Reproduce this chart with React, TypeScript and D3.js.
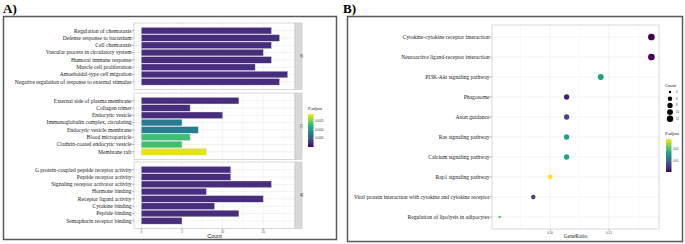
import React from 'react';
import * as d3 from 'd3';

// ---------- Panel A data ----------
const bpTerms = [
  'Regulation of chemotaxis',
  'Defense response to bacterium',
  'Cell chemotaxis',
  'Vascular process in circulatory system',
  'Humoral immune response',
  'Muscle cell proliferation',
  'Amoeboidal-type cell migration',
  'Negative regulation of response to external stimulus',
];
const bpCounts = [16, 17, 16, 15, 16, 14, 18, 17];
const bpPadj = [0.00024, 0.00024, 0.00024, 0.00024, 0.00024, 0.00024, 0.00024, 0.00024];

const ccTerms = [
  'External side of plasma membrane',
  'Collagen trimer',
  'Endocytic vesicle',
  'Immunoglobulin complex, circulating',
  'Endocytic vesicle membrane',
  'Blood microparticle',
  'Clathrin-coated endocytic vesicle',
  'Membrane raft',
];
const ccCounts = [12, 6, 10, 5, 7, 6, 5, 8];
const ccPadj = [0.00024, 0.00024, 0.00024, 0.00078, 0.00078, 0.00132, 0.00132, 0.00182];

const mfTerms = [
  'G protein-coupled peptide receptor activity',
  'Peptide receptor activity',
  'Signaling receptor activator activity',
  'Hormone binding',
  'Receptor ligand activity',
  'Cytokine binding',
  'Peptide binding',
  'Semaphorin receptor binding',
];
const mfCounts = [11, 11, 16, 8, 15, 9, 12, 5];
const mfPadj = [0.00024, 0.00024, 0.00024, 0.00024, 0.00024, 0.00024, 0.00024, 0.00024];

const facetNames = ['BP', 'CC', 'MF'];
const countTicks = [0, 5, 10, 15];
const countMinor = [2.5, 7.5, 12.5, 17.5];
const padjLimitsA = [0, 0.0019];
const padjTicksA = [0.0005, 0.001, 0.0015];

// ---------- Panel B data ----------
const keggTerms = [
  'Cytokine-cytokine receptor interaction',
  'Neuroactive ligand-receptor interaction',
  'PI3K-Akt signaling pathway',
  'Phagosome',
  'Axon guidance',
  'Ras signaling pathway',
  'Calcium signaling pathway',
  'Rap1 signaling pathway',
  'Viral protein interaction with cytokine and cytokine receptor',
  'Regulation of lipolysis in adipocytes',
];
const keggRatio = [0.186, 0.186, 0.143, 0.114, 0.114, 0.114, 0.114, 0.1, 0.0857, 0.0571];
const keggCount = [13, 13, 10, 8, 8, 8, 8, 7, 6, 4];
const keggPadj = [0.0003, 0.0004, 0.0165, 0.0025, 0.0065, 0.0165, 0.0165, 0.029, 0.006, 0.021];
const ratioTicks = [0.1, 0.15];
const ratioMinor = [0.075, 0.125, 0.175];
const countLegend = [4, 6, 8, 10, 12];
const padjTicksB = [0.01, 0.02];

const SERIF = '"Liberation Serif", "DejaVu Serif", serif';
const SANS = '"Liberation Sans", "DejaVu Sans", sans-serif';
const GRID = '#ececec';

function PanelA() {
  const facets = [
    { terms: bpTerms, counts: bpCounts, padj: bpPadj },
    { terms: ccTerms, counts: ccCounts, padj: ccPadj },
    { terms: mfTerms, counts: mfCounts, padj: mfPadj },
  ];
  const left = 134, right = 295, stripW = 7;
  const tops = [23, 93, 162];
  const h = 66.5;
  const x = d3.scaleLinear().domain([-0.9, 18.9]).range([left, right]);
  const color = d3.scaleSequential(d3.interpolateViridis).domain(padjLimitsA as [number, number]);
  const lgTop = 114, lgBot = 147, lgX = 308;
  const lgY = d3.scaleLinear().domain(padjLimitsA).range([lgBot, lgTop]);
  return (
    <g>
      <rect x={3.5} y={16.5} width={333} height={223} fill="white" stroke="#5a5a5a" strokeWidth={1.5} />
      <text x={3} y={13} fontFamily={SERIF} fontWeight="bold" fontSize={13}>A)</text>
      {facets.map((f, i) => {
        const y = d3.scaleBand().domain(f.terms).range([tops[i], tops[i] + h]).paddingInner(0.1).paddingOuter(0.6);
        const bw = y.bandwidth();
        return (
          <g key={i}>
            <rect x={left} y={tops[i]} width={right - left} height={h} fill="white" />
            {countMinor.map((t) => (
              <line key={'m' + t} x1={x(t)} x2={x(t)} y1={tops[i]} y2={tops[i] + h} stroke={GRID} strokeWidth={0.4} />
            ))}
            {countTicks.map((t) => (
              <line key={'M' + t} x1={x(t)} x2={x(t)} y1={tops[i]} y2={tops[i] + h} stroke={GRID} strokeWidth={0.7} />
            ))}
            {f.terms.map((t) => (
              <line key={'h' + t} x1={left} x2={right} y1={y(t)! + bw / 2} y2={y(t)! + bw / 2} stroke={GRID} strokeWidth={0.7} />
            ))}
            {f.terms.map((t, j) => (
              <rect key={'b' + t} x={x(0)} y={y(t)!} width={x(f.counts[j]) - x(0)} height={bw}
                fill={color(f.padj[j])} stroke="#d8d8e8" strokeWidth={0.4} />
            ))}
            <rect x={left} y={tops[i]} width={right - left} height={h} fill="none" stroke="#c8c8c8" strokeWidth={0.7} />
            <rect x={right} y={tops[i]} width={stripW} height={h} fill="#d9d9d9" stroke="#bdbdbd" strokeWidth={0.5} />
            <text transform={`translate(${right + stripW / 2 + 1},${tops[i] + h / 2}) rotate(90)`} textAnchor="middle"
              fontFamily={SANS} fontSize={3.2} fill="#333">{facetNames[i]}</text>
            {f.terms.map((t) => (
              <g key={'l' + t}>
                <line x1={left - 2} x2={left} y1={y(t)! + bw / 2} y2={y(t)! + bw / 2} stroke="#444" strokeWidth={0.4} />
                <text x={left - 2.5} y={y(t)! + bw / 2} dy="0.33em" textAnchor="end" fontFamily={SERIF} fontSize={5.6} fill="#222">{t}</text>
              </g>
            ))}
          </g>
        );
      })}
      {countTicks.map((t) => (
        <g key={'xt' + t}>
          <line x1={x(t)} x2={x(t)} y1={tops[2] + h} y2={tops[2] + h + 1.5} stroke="#444" strokeWidth={0.4} />
          <text x={x(t)} y={tops[2] + h + 4.5} textAnchor="middle" fontFamily={SANS} fontSize={3} fill="#444">{t}</text>
        </g>
      ))}
      <text x={(left + right) / 2} y={238} textAnchor="middle" fontFamily={SANS} fontSize={5.5} fill="#222">Count</text>
      <defs>
        <linearGradient id="gradA" x1="0" y1="1" x2="0" y2="0">
          {d3.range(0, 1.01, 0.1).map((s) => (
            <stop key={s} offset={s} stopColor={color(padjLimitsA[0] + s * (padjLimitsA[1] - padjLimitsA[0]))} />
          ))}
        </linearGradient>
        <linearGradient id="gradB" x1="0" y1="1" x2="0" y2="0">
          {d3.range(0, 1.01, 0.1).map((s) => (
            <stop key={s} offset={s} stopColor={d3.interpolateViridis(s)} />
          ))}
        </linearGradient>
      </defs>
      <text x={lgX} y={110} fontFamily={SERIF} fontSize={4.5} fill="#222">P.adjust</text>
      <rect x={lgX} y={lgTop} width={5.5} height={lgBot - lgTop} fill="url(#gradA)" />
      {padjTicksA.map((t) => (
        <g key={'pl' + t}>
          <line x1={lgX} x2={lgX + 1} y1={lgY(t)} y2={lgY(t)} stroke="white" strokeWidth={0.4} />
          <line x1={lgX + 4.5} x2={lgX + 5.5} y1={lgY(t)} y2={lgY(t)} stroke="white" strokeWidth={0.4} />
          <text x={lgX + 7} y={lgY(t)} dy="0.33em" fontFamily={SANS} fontSize={2.8} fill="#333">{t.toFixed(4)}</text>
        </g>
      ))}
    </g>
  );
}

function PanelB() {
  const left = 492, right = 659, top = 25, bottom = 229;
  const ext = d3.extent(keggRatio) as [number, number];
  const pad = (ext[1] - ext[0]) * 0.05;
  const x = d3.scaleLinear().domain([ext[0] - pad, ext[1] + pad]).range([left, right]);
  const y = d3.scalePoint().domain(keggTerms).range([top, bottom]).padding(0.6);
  const pext = d3.extent(keggPadj) as [number, number];
  const color = d3.scaleSequential(d3.interpolateViridis).domain(pext);
  const cext = d3.extent(keggCount) as [number, number];
  const size = (c: number) => {
    const t = (c - cext[0]) / (cext[1] - cext[0]);
    return (2.4 + Math.sqrt(t) * 4.3) / 2;
  };
  const lgX = 666, lgTop = 139, lgBot = 172;
  const lgY = d3.scaleLinear().domain(pext).range([lgBot, lgTop]);
  return (
    <g>
      <rect x={347.5} y={16.5} width={335} height={225} fill="white" stroke="#5a5a5a" strokeWidth={1.5} />
      <text x={343} y={13} fontFamily={SERIF} fontWeight="bold" fontSize={13}>B)</text>
      {ratioMinor.map((t) => (
        <line key={'m' + t} x1={x(t)} x2={x(t)} y1={top} y2={bottom} stroke={GRID} strokeWidth={0.4} />
      ))}
      {ratioTicks.map((t) => (
        <line key={'M' + t} x1={x(t)} x2={x(t)} y1={top} y2={bottom} stroke={GRID} strokeWidth={0.7} />
      ))}
      {keggTerms.map((t) => (
        <g key={'g' + t}>
          <line x1={left} x2={right} y1={y(t)} y2={y(t)} stroke={GRID} strokeWidth={0.7} />
          <line x1={left - 2} x2={left} y1={y(t)} y2={y(t)} stroke="#444" strokeWidth={0.4} />
          <text x={left - 2.5} y={y(t)} dy="0.33em" textAnchor="end" fontFamily={SERIF} fontSize={5.6} fill="#222">{t}</text>
        </g>
      ))}
      <rect x={left} y={top} width={right - left} height={bottom - top} fill="none" stroke="#c8c8c8" strokeWidth={0.7} />
      {keggTerms.map((t, i) => (
        <circle key={'c' + t} cx={x(keggRatio[i])} cy={y(t)} r={size(keggCount[i])} fill={color(keggPadj[i])} />
      ))}
      {ratioTicks.map((t) => (
        <g key={'xt' + t}>
          <line x1={x(t)} x2={x(t)} y1={bottom} y2={bottom + 1.5} stroke="#444" strokeWidth={0.4} />
          <text x={x(t)} y={bottom + 4.8} textAnchor="middle" fontFamily={SANS} fontSize={3} fill="#444">{t.toFixed(2)}</text>
        </g>
      ))}
      <text x={(left + right) / 2} y={238} textAnchor="middle" fontFamily={SERIF} fontSize={5.5} fill="#222">GeneRatio</text>
      <text x={665} y={87} fontFamily={SANS} fontSize={4.2} fill="#222">Count</text>
      {countLegend.map((c, i) => (
        <g key={'cl' + c}>
          <circle cx={670} cy={92 + i * 6.7} r={size(c)} fill="black" />
          <text x={676} y={92 + i * 6.7} dy="0.33em" fontFamily={SANS} fontSize={2.8} fill="#333">{c}</text>
        </g>
      ))}
      <text x={665} y={135} fontFamily={SERIF} fontSize={4.5} fill="#222">P.adjust</text>
      <rect x={lgX} y={lgTop} width={5.5} height={lgBot - lgTop} fill="url(#gradB)" />
      {padjTicksB.map((t) => (
        <g key={'pb' + t}>
          <line x1={lgX} x2={lgX + 1} y1={lgY(t)} y2={lgY(t)} stroke="white" strokeWidth={0.4} />
          <line x1={lgX + 4.5} x2={lgX + 5.5} y1={lgY(t)} y2={lgY(t)} stroke="white" strokeWidth={0.4} />
          <text x={lgX + 7} y={lgY(t)} dy="0.33em" fontFamily={SANS} fontSize={2.8} fill="#333">{t.toFixed(2)}</text>
        </g>
      ))}
    </g>
  );
}

export default function App() {
  return (
    <svg width={685} height={244} style={{ position: 'absolute', left: 0, top: 0, background: 'white' }}>
      <PanelA />
      <PanelB />
    </svg>
  );
}
